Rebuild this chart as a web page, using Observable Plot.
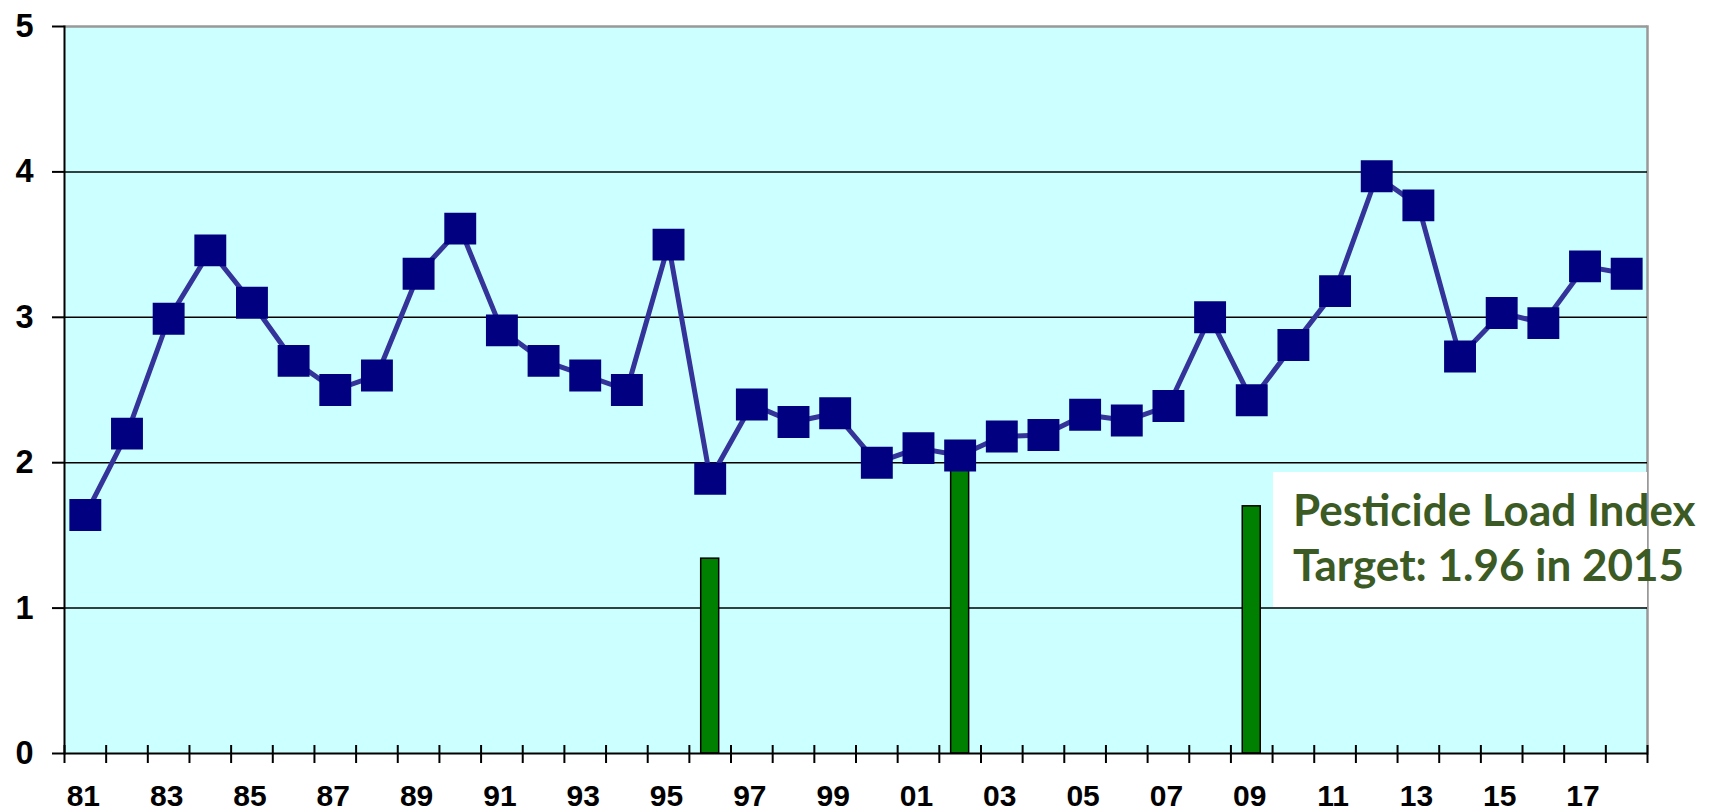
<!DOCTYPE html>
<html>
<head>
<meta charset="utf-8">
<script src="https://cdn.jsdelivr.net/npm/d3@7"></script>
<script src="https://cdn.jsdelivr.net/npm/@observablehq/plot@0.6"></script>
<style>
  html, body { margin: 0; padding: 0; background: white; }
  #wrap { position: relative; width: 1719px; height: 810px; }
  #note {
    position: absolute; left: 1273px; top: 472px; width: 374px; height: 135px;
    background: white; box-sizing: border-box; padding-left: 20px;
    font-family: Lato, "Open Sans", sans-serif; font-weight: bold; color: #3b5a24;
    font-size: 44px; line-height: 55px; padding-top: 10px; white-space: nowrap;
  }
</style>
</head>
<body>
<div id="wrap"><div id="note"></div></div>
<script>
const years = [1981,1982,1983,1984,1985,1986,1987,1988,1989,1990,1991,1992,1993,1994,1995,1996,1997,1998,1999,2000,
               2001,2002,2003,2004,2005,2006,2007,2008,2009,2010,2011,2012,2013,2014,2015,2016,2017,2018];
const loadIndex = [1.64,2.20,2.99,3.46,3.10,2.70,2.50,2.60,3.30,3.61,2.91,2.70,2.60,2.50,3.50,1.89,2.40,2.28,2.34,2.00,
                   2.10,2.05,2.18,2.19,2.33,2.29,2.39,3.00,2.43,2.81,3.18,3.97,3.77,2.73,3.03,2.96,3.35,3.30];
const barYears = [1996, 2002, 2009];
const barValues = [1.34, 2.00, 1.70];
const yTicks = [0, 1, 2, 3, 4, 5];
const gridValues = [1, 2, 3, 4];
const xLabelYears = [1981,1983,1985,1987,1989,1991,1993,1995,1997,1999,2001,2003,2005,2007,2009,2011,2013,2015,2017];
const xTickLabels = ["81","83","85","87","89","91","93","95","97","99","01","03","05","07","09","11","13","15","17"];
const noteLines = ["Pesticide Load Index", "Target: 1.96 in 2015"];

const series = years.map((y, i) => ({year: y, value: loadIndex[i]}));
const bars = barYears.map((y, i) => ({year: y, value: barValues[i]}));

const W = 1719, H = 810, ML = 64, MR = 72, MT = 26, MB = 57;
const bw = (W - ML - MR) / years.length;
const barW = 18;
const inset = (bw - barW) / 2;
const font = "'Liberation Sans', Arial, sans-serif";
const labelMap = new Map(xLabelYears.map((y, i) => [y, xTickLabels[i]]));

const chart = Plot.plot({
  width: W, height: H,
  marginLeft: ML, marginRight: MR, marginTop: MT, marginBottom: MB,
  style: {background: "white", fontFamily: font, overflow: "visible"},
  x: {type: "band", domain: years, padding: 0, round: false, axis: null},
  y: {domain: [0, 5], axis: null},
  marks: [
    Plot.frame({fill: "#ccffff"}),
    Plot.ruleY([5], {stroke: "#999999", strokeWidth: 2.5}),
    Plot.frame({anchor: "right", stroke: "#999999", strokeWidth: 2.5}),
    Plot.ruleY(gridValues, {stroke: "black", strokeWidth: 1.5}),
    Plot.barY(bars, {x: "year", y: "value", fill: "#008000", stroke: "black", strokeWidth: 1.5,
                     insetLeft: inset, insetRight: inset}),
    Plot.line(series, {x: "year", y: "value", stroke: "#333399", strokeWidth: 5}),
    Plot.dot(series, {x: "year", y: "value", symbol: "square", r: 18, fill: "#000080", stroke: null}),
    Plot.frame({anchor: "left", stroke: "black", strokeWidth: 2}),
    Plot.ruleY([0], {stroke: "black", strokeWidth: 2}),
    Plot.axisY({ticks: yTicks, tickSize: 12, tickPadding: 19, fontSize: 32.5, fontWeight: "bold",
                label: null, strokeWidth: 2, tickFormat: d => String(d)}),
    Plot.axisX({ticks: years, tickSize: 18, dx: -bw / 2, dy: -8, tickFormat: () => "",
                label: null, strokeWidth: 2}),
    Plot.axisX({ticks: [years[years.length - 1]], tickSize: 18, dx: bw / 2, dy: -8, tickFormat: () => "",
                label: null, strokeWidth: 2}),
    Plot.axisX({ticks: xLabelYears, tickSize: 0, tickPadding: 31, fontSize: 30, fontWeight: "bold",
                dx: -2, tickFormat: d => labelMap.get(d), label: null})
  ]
});
const wrap = document.getElementById("wrap");
wrap.insertBefore(chart, wrap.firstChild);
const note = document.getElementById("note");
noteLines.forEach(t => { const d = document.createElement("div"); d.textContent = t; note.appendChild(d); });
</script>
</body>
</html>
